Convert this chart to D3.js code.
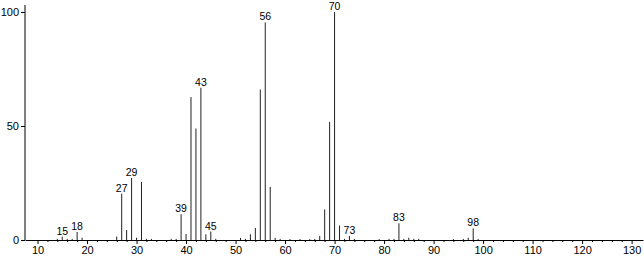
<!DOCTYPE html>
<html>
<head>
<meta charset="utf-8">
<script src="https://cdn.jsdelivr.net/npm/d3@7"></script>
<style>
  body { margin: 0; background: #fff; }
  svg text { font-family: "Liberation Sans", Arial, sans-serif; font-size: 11px; fill: #000; }
  .peaklabel { font-size: 10.5px; }
</style>
</head>
<body>
<div id="spectrum"></div>
<script>
// m/z values and relative intensities
var masses = [14, 15, 16, 17, 18, 19, 26, 27, 28, 29, 30, 31, 32, 33, 37, 38, 39, 40, 41, 42, 43, 44, 45, 46,
              51, 52, 53, 54, 55, 56, 57, 58, 59, 61, 63, 65, 66, 67, 68, 69, 70, 71, 72, 73, 74,
              79, 81, 82, 83, 84, 85, 86, 87, 94, 96, 97, 98, 99];
var intensities = [0.5, 1.5, 0.5, 0.5, 3.5, 1, 1.5, 20.3, 4.4, 27.2, 1, 25.5, 0.5, 0.5, 0.5, 0.5, 11.3, 2.6, 62.7, 48.9, 66.8, 2.5, 3.7, 0.5,
                   0.9, 0.5, 2.5, 5.3, 66, 95.4, 23.3, 0.9, 0.5, 0.4, 0.4, 0.4, 0.5, 1.8, 13.4, 51.8, 100, 6.3, 0.5, 1.8, 0.5,
                   0.4, 0.5, 0.5, 7.3, 0.5, 1, 0.5, 0.5, 0.4, 0.5, 1, 5.1, 0.5];
var labelled = [15, 18, 27, 29, 39, 43, 45, 56, 70, 73, 83, 98];
var xTicks = [10, 20, 30, 40, 50, 60, 70, 80, 90, 100, 110, 120, 130];
var yTicks = [0, 50, 100];

var svg = d3.select("#spectrum")
            .append("svg")
            .attr("width", 644)
            .attr("height", 256);

// scales (m/z 10 sits at 37.5px, 4.95px per unit)
var x = d3.scaleLinear()
          .domain([7.47, 132.3])
          .range([25, 643]);

var y = d3.scaleLinear()
          .domain([0, 100])
          .range([240, 12]);

// x axis: labelled ticks every 10, small ticks every 2
var minor = d3.range(12, 132, 2).filter(function(d) { return d % 10 != 0; });

svg.append("g")
   .attr("transform", "translate(0,240)")
   .call(d3.axisBottom(x).tickValues(minor).tickSize(2).tickFormat(""))
   .call(function(g) { g.select(".domain").remove(); });

svg.append("g")
   .attr("transform", "translate(0,240)")
   .call(d3.axisBottom(x).tickValues(xTicks).tickSize(4).tickSizeOuter(0).tickPadding(2).tickFormat(d3.format("d")))
   .call(function(g) { g.selectAll("text").attr("font-size", null); g.attr("font-family", null); });

// y axis
svg.append("g")
   .attr("transform", "translate(25,0)")
   .call(d3.axisLeft(y).tickValues(yTicks).tickSize(4).tickSizeOuter(0).tickPadding(2))
   .call(function(g) {
     g.select(".domain").attr("d", "M0,5V240");
     g.selectAll("text").attr("font-size", null);
     g.attr("font-family", null);
   });

// peaks
var peaks = masses.map(function(m, i) { return {m: m, v: intensities[i]}; });

svg.append("g")
   .selectAll("line")
   .data(peaks)
   .enter()
   .append("line")
   .attr("x1", function(d) { return x(d.m); })
   .attr("x2", function(d) { return x(d.m); })
   .attr("y1", y(0))
   .attr("y2", function(d) { return y(d.v); })
   .attr("stroke", "#222")
   .attr("stroke-width", 1);

// peak labels
svg.append("g")
   .selectAll("text")
   .data(peaks.filter(function(d) { return labelled.indexOf(d.m) >= 0; }))
   .enter()
   .append("text")
   .attr("class", "peaklabel")
   .attr("x", function(d) { return x(d.m); })
   .attr("y", function(d) { return y(d.v) - 2; })
   .style("text-anchor", "middle")
   .text(function(d) { return d.m; });
</script>
</body>
</html>
